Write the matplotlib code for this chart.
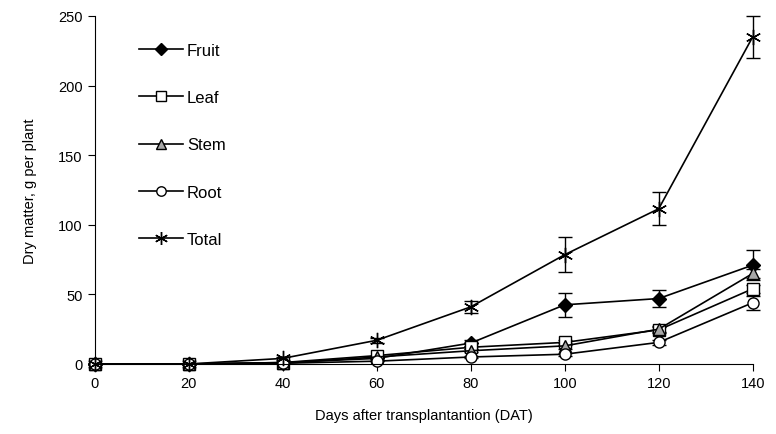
import matplotlib.pyplot as plt

plt.rcParams['font.family'] = ['Liberation Sans', 'DejaVu Sans']

days = [0, 20, 40, 60, 80, 100, 120, 140]

fruit = [0, 0, 1, 4, 15, 42.5, 47, 71]
fruit_err = [0, 0, 0, 0, 2, 8.5, 6, 11]
leaf = [0, 0, 1, 6, 12, 15.5, 24.5, 54]
leaf_err = [0, 0, 0, 0, 1, 2, 2, 3]
stem = [0, 0, 0.5, 5, 9.5, 13, 25, 65]
stem_err = [0, 0, 0, 0, 1, 2, 2, 3]
root = [0, 0, 0.5, 2, 5, 7, 15.5, 44]
root_err = [0, 0, 0, 0, 1, 1, 2, 5]
total = [0, 0, 4, 17, 41, 78.5, 111.5, 235]
total_err = [0, 0, 1, 2, 4.5, 12.5, 12, 15]


def draw_figure():
    fig = plt.figure(figsize=(7.76, 4.35), dpi=100)
    ax = fig.add_axes([0.122, 0.161, 0.848, 0.8])

    series = [
        ("Fruit", fruit, fruit_err, dict(marker='D', mfc='black', ms=7)),
        ("Leaf", leaf, leaf_err, dict(marker='s', mfc='white', ms=9)),
        ("Stem", stem, stem_err, dict(marker='^', mfc='#a6a6a6', ms=9)),
        ("Root", root, root_err, dict(marker='o', mfc='white', ms=8)),
        ("Total", total, total_err, dict(marker=(6, 2, 0), mfc='black', ms=11)),
    ]
    for name, vals, err, style in series:
        ax.errorbar(days, vals, yerr=err, color='black', lw=1.2, mec='black',
                    mew=1.0, capsize=5, elinewidth=1.0, capthick=1.0,
                    label=name, **style)

    ax.set_xlim(0, 140)
    ax.set_ylim(0, 250)
    ax.set_xticks(days)
    ax.set_yticks([0, 50, 100, 150, 200, 250])
    ax.spines['top'].set_visible(False)
    ax.spines['right'].set_visible(False)
    ax.tick_params(direction='out', length=5, labelsize=10.5)
    ax.set_xlabel("Days after transplantantion (DAT)", fontsize=10.5, labelpad=13)
    ax.set_ylabel("Dry matter, g per plant", fontsize=10.5, labelpad=15)
    for c in ax.get_children():
        if hasattr(c, 'set_clip_on'):
            c.set_clip_on(False)

    handles, labels = ax.get_legend_handles_labels()
    handles = [h[0] for h in handles]
    ax.legend(handles, labels, loc='upper left', bbox_to_anchor=(0.045, 0.965),
              frameon=False, fontsize=12, labelspacing=1.93,
              handlelength=2.6, handletextpad=0.25, markerscale=0.85)

    fig.savefig('out.png', dpi=100)


if __name__ == "__main__":
    draw_figure()
